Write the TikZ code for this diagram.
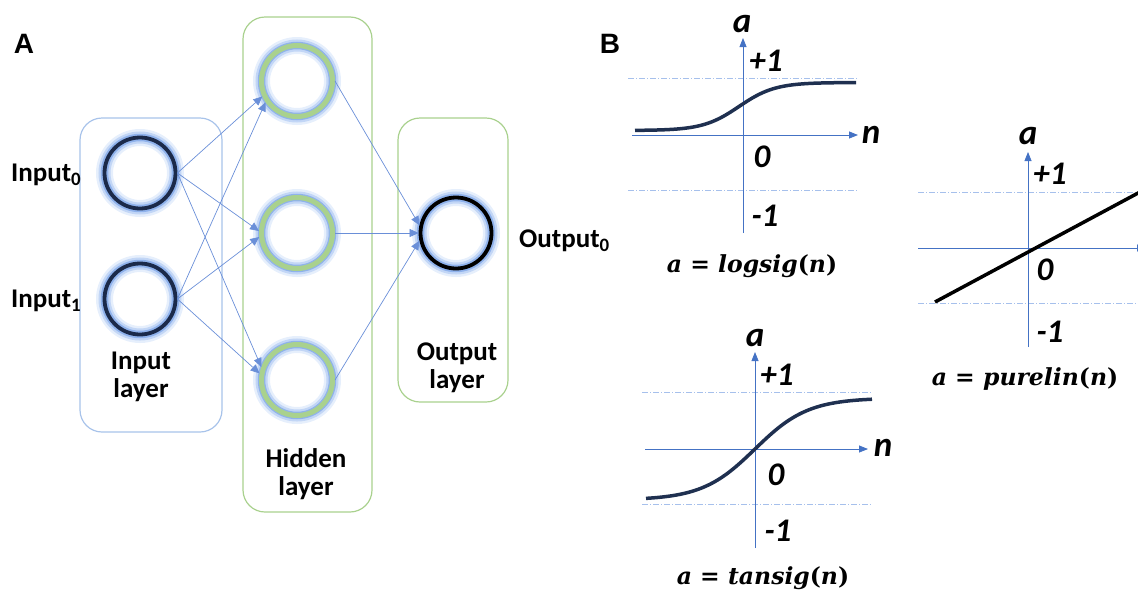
\documentclass[tikz,border=0pt]{standalone}
\usepackage{fontspec}
\setmainfont{Carlito}
\newfontfamily\arialfont{Liberation Sans}
\newfontfamily\capfont{DejaVu Serif}
\usetikzlibrary{arrows.meta}
\definecolor{boxblue}{HTML}{A8C3EA}
\definecolor{boxgreen}{HTML}{A9D18E}
\definecolor{linkblue}{HTML}{6A8FD8}
\definecolor{axisblue}{HTML}{4472C4}
\definecolor{navy}{HTML}{1B2A4A}
\definecolor{glowfar}{HTML}{E6EFFC}
\definecolor{glowout}{HTML}{C2D6F6}
\definecolor{glowin}{HTML}{8FB2EC}
\definecolor{dashblue}{HTML}{A6C0EC}
\definecolor{curvenavy}{HTML}{1F3050}
\newcommand{\capit}[1]{{\itshape #1}}
\begin{document}
\begin{tikzpicture}[x=1pt,y=-1pt,
  layerbox/.style={rounded corners=22pt, line width=1.2pt},
  glow/.style={circle, minimum size=71pt, inner sep=0pt,
    preaction={draw=glowfar, line width=17pt},
    preaction={draw=glowout, line width=12pt},
    preaction={draw=glowin, line width=7.5pt}},
  incirc/.style={glow, draw=navy, line width=3.8pt},
  hidcirc/.style={glow, draw=boxgreen, line width=5pt},
  outcirc/.style={glow, draw=black, line width=3.8pt},
  link/.style={draw=linkblue, line width=0.7pt, -{Triangle[length=9pt,width=8pt]}},
  lbl/.style={font=\bfseries\fontsize{27}{28}\selectfont, align=center, inner sep=0pt},
  panel/.style={font=\arialfont\bfseries\fontsize{28}{30}\selectfont, inner sep=0pt},
  axisline/.style={draw=axisblue, line width=0.8pt, -{Triangle[length=9pt,width=7pt]}},
  dashline/.style={draw=dashblue, line width=0.8pt, dash pattern=on 6pt off 2pt on 1pt off 2pt},
  curveline/.style={draw=curvenavy, line width=3.5pt},
  ticklbl/.style={font=\bfseries\itshape\fontsize{33}{34}\selectfont, inner sep=0pt},
  axlbl/.style={font=\bfseries\itshape\fontsize{35}{36}\selectfont, inner sep=0pt},
  caplbl/.style={font=\capfont\bfseries\fontsize{23.5}{26}\selectfont, inner sep=0pt}
]
\useasboundingbox (0,0) rectangle (1138,592);

% ---------- Panel A ----------
\node[panel] (A) at (24,44) {A};

\draw[layerbox, draw=boxblue] (80,118) rectangle (222,432);
\draw[layerbox, draw=boxgreen] (243,17) rectangle (372,512);
\draw[layerbox, draw=boxgreen] (398,118) rectangle (508,402);

\node[incirc] (in0) at (140,173) {};
\node[incirc] (in1) at (140,299) {};
\node[hidcirc] (h0) at (297,81) {};
\node[hidcirc] (h1) at (297,233) {};
\node[hidcirc] (h2) at (297,380) {};
\node[outcirc] (out) at (456,233) {};

\draw[link] (in0.east) -- (h0.204);
\draw[link] (in0.east) -- (h1.177);
\draw[link] (in0.east) -- (h2.160);
\draw[link] (in1.east) -- (h0.214);
\draw[link] (in1.east) -- (h1.186);
\draw[link] (in1.east) -- (h2.170);
\draw[link] (h0.east) -- (out.168);
\draw[link] (h1.east) -- (out.180);
\draw[link] (h2.east) -- (out.192);

\node[lbl, anchor=west] (lin0) at (11,175) {Input\textsubscript{0}};
\node[lbl, anchor=west] (lin1) at (11,301) {Input\textsubscript{1}};
\node[lbl, anchor=west] (lout) at (519,241) {Output\textsubscript{0}};
\node[lbl] (linl) at (141,377) {Input\\layer};
\node[lbl] (lhid) at (306,474) {Hidden\\layer};
\node[lbl] (loutl) at (457,368) {Output\\layer};

% ---------- Panel B ----------
\node[panel] (B) at (610,44) {B};

% logsig
\coordinate (lsyb) at (743,233);
\coordinate (lsyt) at (743,38);
\coordinate (lsxl) at (632,135);
\coordinate (lsxr) at (858,135);
\coordinate (lsuA) at (628,78);
\coordinate (lsuB) at (858,78);
\coordinate (lsdA) at (628,190);
\coordinate (lsdB) at (858,190);
\draw[dashline] (lsuA) -- (lsuB);
\draw[dashline] (lsdA) -- (lsdB);
\draw[axisline] (lsyb) -- (lsyt);
\draw[axisline] (lsxl) -- (lsxr);
\draw[curveline] plot[domain=635:856, samples=80, smooth] (\x, {130.5-48/(1+exp(-(\x-739)/18))});
\node[axlbl] (lsa) at (742,24) {a};
\node[axlbl] (lsn) at (871,135) {n};
\node[ticklbl] (lsp) at (766,61) {+1};
\node[ticklbl] (lsz) at (762,157) {0};
\node[ticklbl] (lsm) at (765,216) {-1};
\node[caplbl] (lscap) at (752,266) {\capit{a} = \capit{logsig}(\capit{n})};

% purelin
\coordinate (plyb) at (1028,347);
\coordinate (plyt) at (1028,152);
\coordinate (plxl) at (918,248);
\coordinate (plxr) at (1146,248);
\coordinate (pluA) at (918,192);
\coordinate (pluB) at (1138,192);
\coordinate (pldA) at (918,303);
\coordinate (pldB) at (1138,303);
\coordinate (pls) at (935,302);
\coordinate (ple) at (1140,192);
\draw[dashline] (pluA) -- (pluB);
\draw[dashline] (pldA) -- (pldB);
\draw[axisline] (plyb) -- (plyt);
\draw[axisline] (plxl) -- (plxr);
\draw[curveline, draw=black] (pls) -- (ple);
\node[axlbl] (pla) at (1028,136) {a};
\node[ticklbl] (plp) at (1050,174) {+1};
\node[ticklbl] (plz) at (1045,270) {0};
\node[ticklbl] (plm) at (1050,332) {-1};
\node[caplbl] (plcap) at (1025,379) {\capit{a} = \capit{purelin}(\capit{n})};

% tansig
\coordinate (tsyb) at (755,548);
\coordinate (tsyt) at (755,352);
\coordinate (tsxl) at (645,449);
\coordinate (tsxr) at (868,449);
\coordinate (tsuA) at (642,392);
\coordinate (tsuB) at (872,392);
\coordinate (tsdA) at (642,504);
\coordinate (tsdB) at (872,504);
\draw[dashline] (tsuA) -- (tsuB);
\draw[dashline] (tsdA) -- (tsdB);
\draw[axisline] (tsyb) -- (tsyt);
\draw[axisline] (tsxl) -- (tsxr);
\draw[curveline] plot[domain=646:872, samples=80, smooth] (\x, {449-51*tanh((\x-755)/53)});
\node[axlbl] (tsa) at (755,338) {a};
\node[axlbl] (tsn) at (883,448) {n};
\node[ticklbl] (tsp) at (777,375) {+1};
\node[ticklbl] (tsz) at (776,475) {0};
\node[ticklbl] (tsm) at (778,531) {-1};
\node[caplbl] (tscap) at (763,578) {\capit{a} = \capit{tansig}(\capit{n})};
\end{tikzpicture}
\end{document}
